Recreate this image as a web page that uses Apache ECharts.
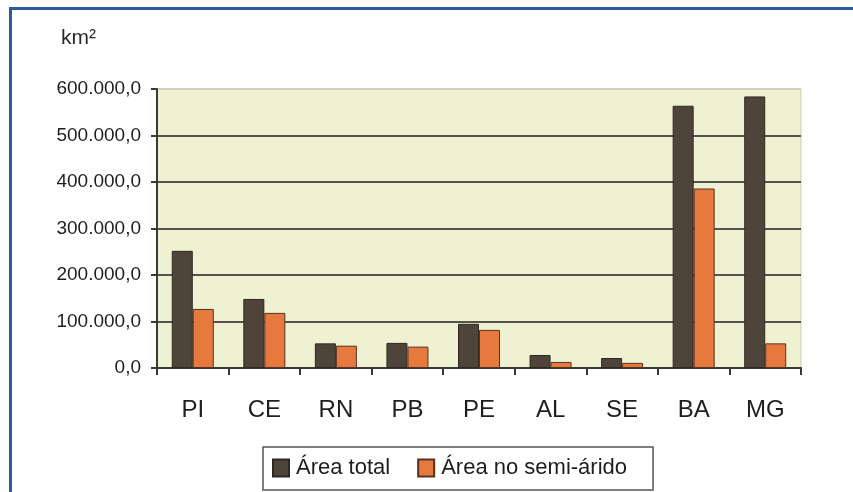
<!DOCTYPE html>
<html>
<head>
<meta charset="utf-8">
<script src="https://cdn.jsdelivr.net/npm/echarts@6/dist/echarts.min.js"></script>
<style>
html,body{margin:0;padding:0;width:853px;height:492px;overflow:hidden;background:#fff;}
#frame{position:absolute;left:9px;top:7px;width:900px;height:600px;border-top:3px solid #2f5a9e;border-left:3px solid #2f5a9e;box-sizing:border-box;}
#chart{position:absolute;left:0;top:0;width:853px;height:492px;}
</style>
</head>
<body>
<div id="frame"></div>
<div id="chart"></div>
<script>
const categories = ['PI','CE','RN','PB','PE','AL','SE','BA','MG'];
const areaTotal = [252000, 148500, 53000, 54000, 95000, 28000, 21500, 564000, 584000];
const areaSemiArido = [127000, 118500, 48000, 46000, 82000, 13000, 11000, 386000, 53000];
const seriesNames = ['Área total', 'Área no semi-árido'];
const yUnit = 'km²';

function fmt(v){
  const s = Math.round(v).toString().replace(/\B(?=(\d{3})+(?!\d))/g, '.');
  return s + ',0';
}

const chart = echarts.init(document.getElementById('chart'), null, {renderer:'canvas'});
const dark = '#4e4439', orange = '#e67a3e';
chart.setOption({
  animation:false,
  textStyle:{fontFamily:'Liberation Sans, Arial, sans-serif'},
  graphic:[{type:'text', left:61, top:28, style:{text:yUnit, font:'21px Liberation Sans, Arial', fill:'#2a2a2a'}}],
  grid:{left:157, right:52, top:89, bottom:124, show:true, backgroundColor:'#eef2d3', borderColor:'#c9c9bb', borderWidth:1},
  legend:{
    left:263, top:447, orient:'horizontal',
    data:seriesNames, icon:'rect', itemWidth:16, itemHeight:17, itemGap:27,
    padding:[10,26,11,9], borderColor:'#555', borderWidth:1.5, backgroundColor:'#fff',
    textStyle:{fontSize:22, color:'#1e1e1e', fontFamily:'Liberation Sans, Arial', padding:[0,0,0,2]}
  },
  xAxis:{
    type:'category', data:categories,
    axisLine:{lineStyle:{color:'#3a3a34', width:2}},
    axisTick:{show:true, length:7, lineStyle:{color:'#3a3a34', width:2}},
    axisLabel:{fontSize:24, color:'#1e1e1e', margin:30}
  },
  yAxis:{
    type:'value', min:0, max:600000, interval:100000,
    axisLine:{show:true, lineStyle:{color:'#3a3a34', width:2}},
    axisTick:{show:true, length:6, lineStyle:{color:'#3a3a34', width:2}},
    axisLabel:{fontSize:19, color:'#1e1e1e', margin:16, formatter:fmt},
    splitLine:{lineStyle:{color:['#55524a','#55524a','#55524a','#55524a','#55524a','#55524a','#cfcfc0'], width:2}}
  },
  series:[
    {name:seriesNames[0], type:'bar', data:areaTotal, barWidth:21, barGap:'0%',
     itemStyle:{color:dark, borderColor:'#2e2820', borderWidth:1}},
    {name:seriesNames[1], type:'bar', data:areaSemiArido, barWidth:21,
     itemStyle:{color:orange, borderColor:'#5a3020', borderWidth:1}}
  ]
});
</script>
</body>
</html>
